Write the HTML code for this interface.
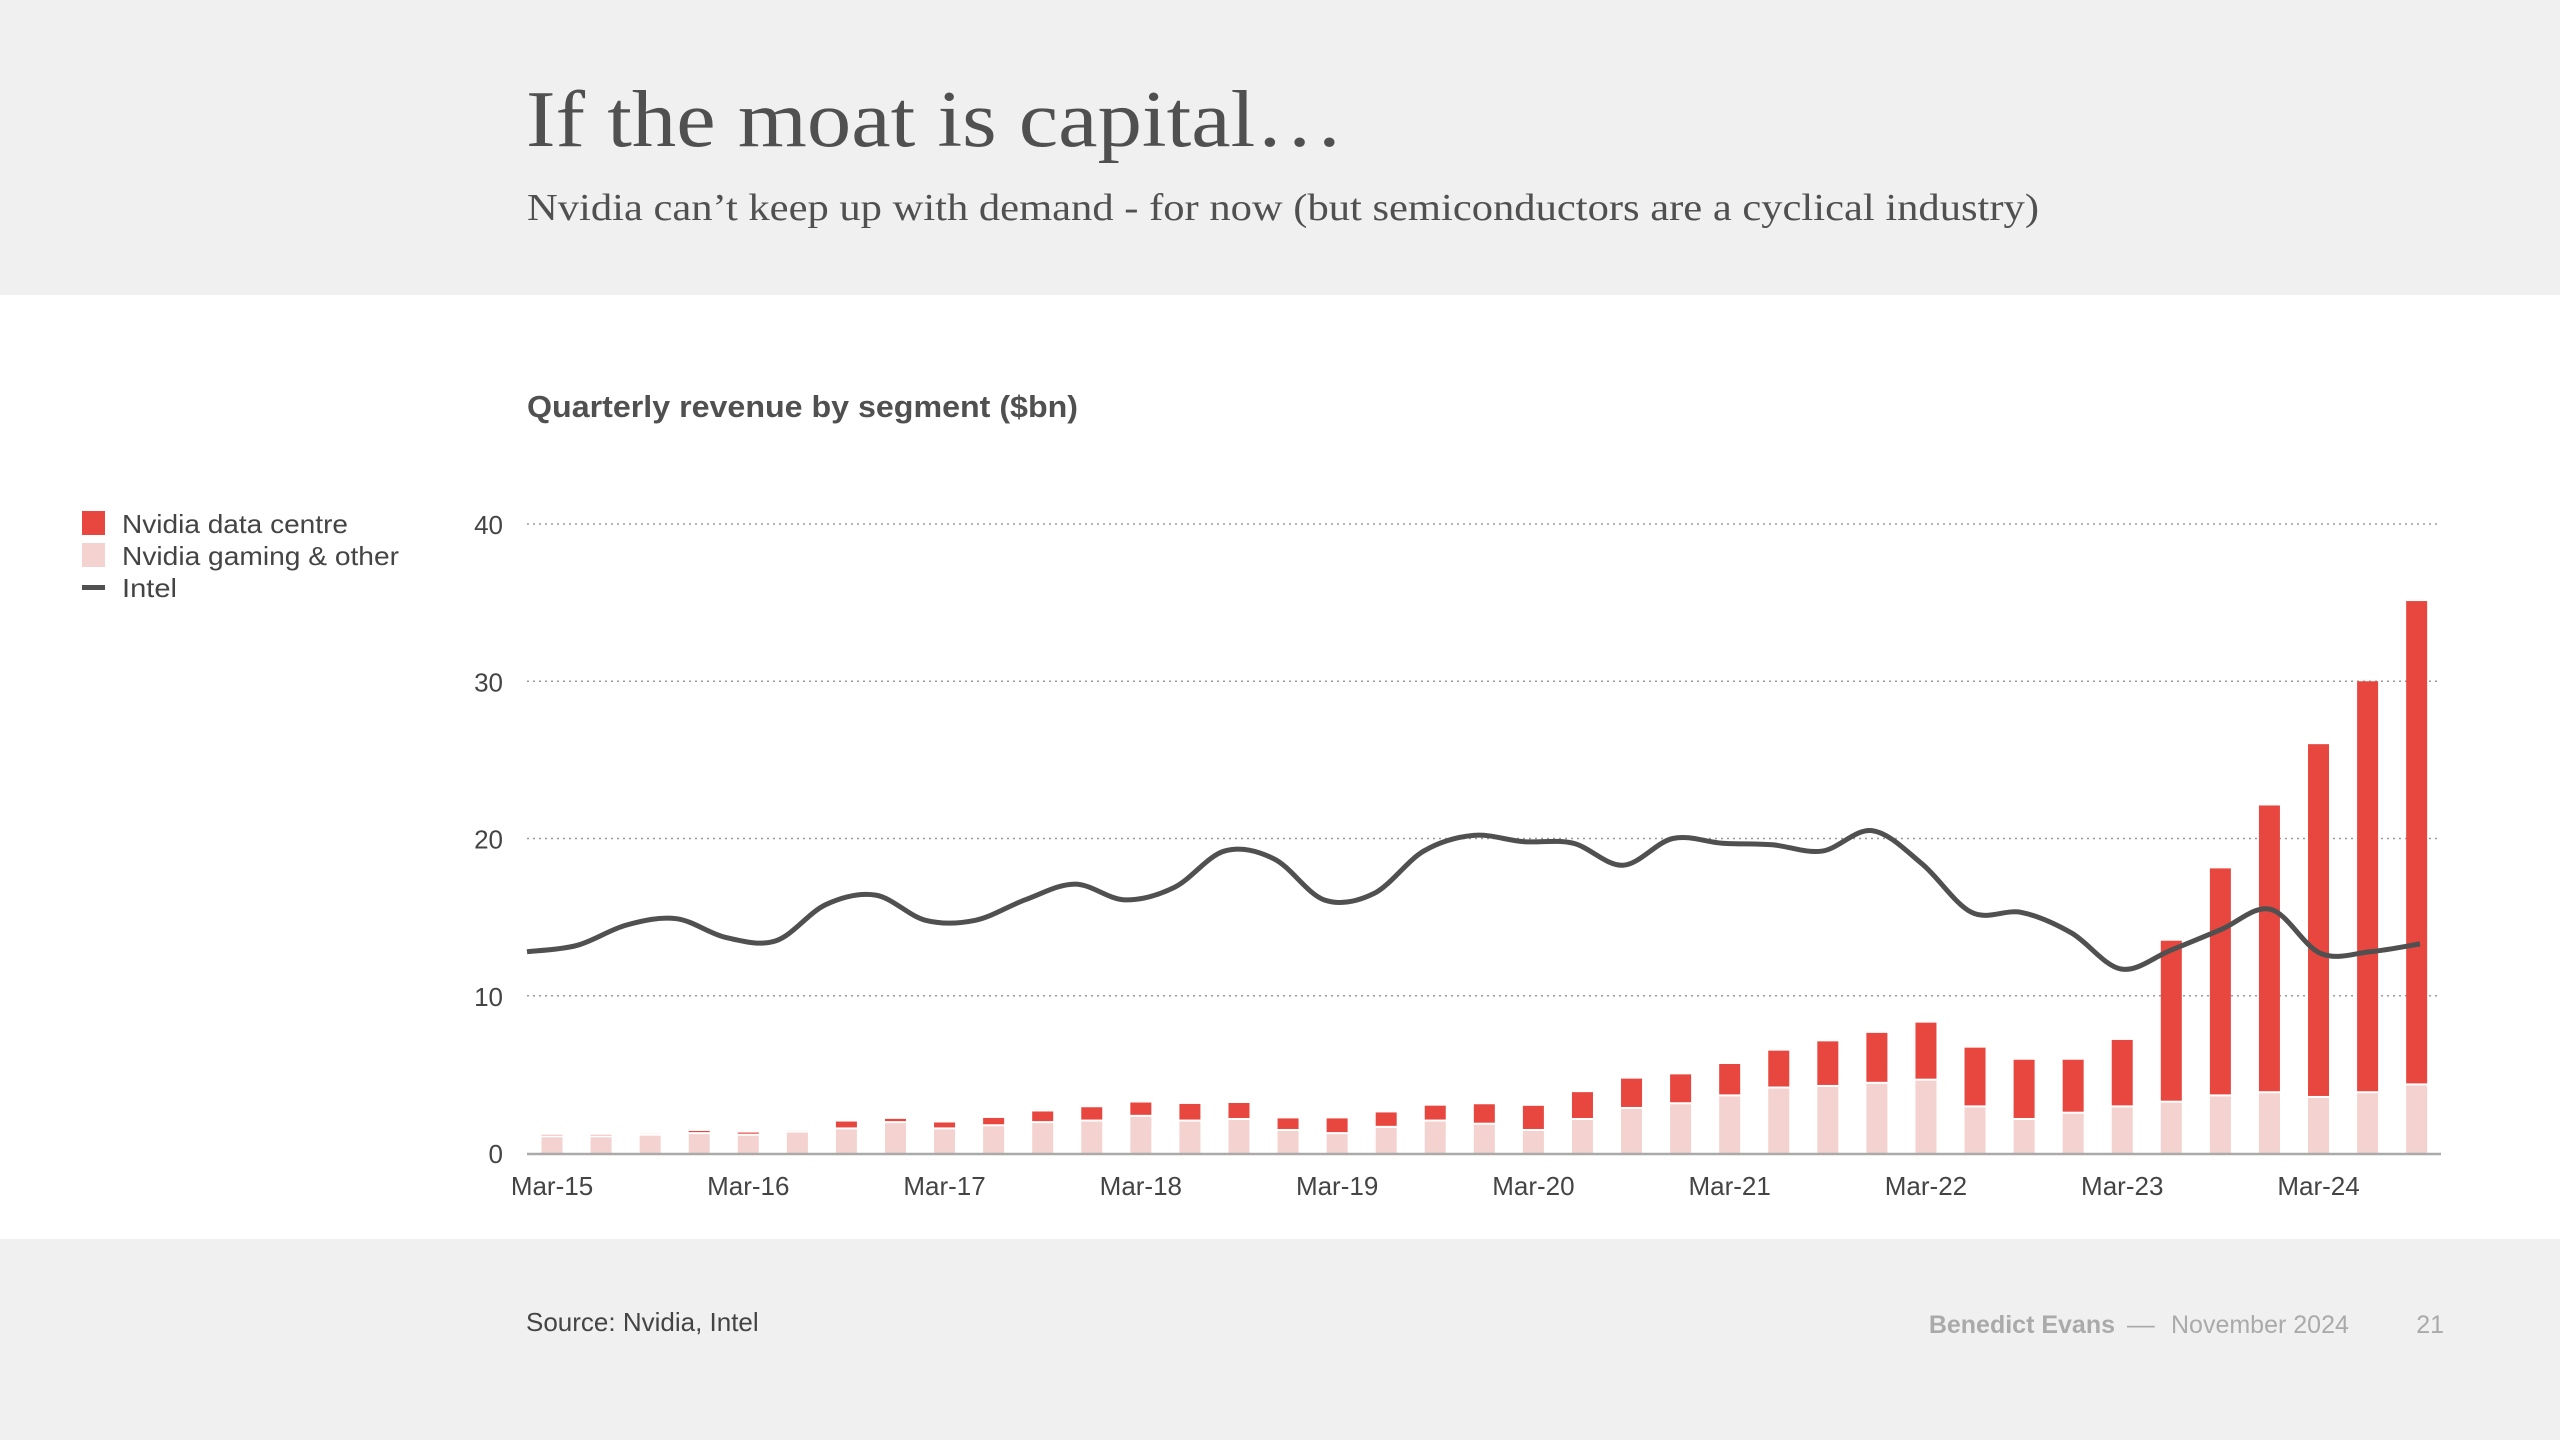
<!DOCTYPE html>
<html><head><meta charset="utf-8"><style>
html,body{margin:0;padding:0;background:#fff;}
svg{display:block;font-family:"Liberation Sans",sans-serif;}
</style></head><body>
<svg id="chart" width="2560" height="1440" viewBox="0 0 2560 1440" xmlns="http://www.w3.org/2000/svg">
<rect x="0" y="0" width="2560" height="295" fill="#f0f0f0"/>
<rect x="0" y="1239" width="2560" height="201" fill="#f0f0f0"/>
<text x="526" y="146" font-family="Liberation Serif, serif" font-size="80" fill="#505050" textLength="818" lengthAdjust="spacingAndGlyphs">If the moat is capital…</text>
<text x="527" y="220" font-family="Liberation Serif, serif" font-size="38" fill="#505050" textLength="1512" lengthAdjust="spacingAndGlyphs">Nvidia can’t keep up with demand - for now (but semiconductors are a cyclical industry)</text>
<text x="527" y="417" font-size="31" font-weight="bold" fill="#505050" textLength="551" lengthAdjust="spacingAndGlyphs">Quarterly revenue by segment ($bn)</text>
<g>
<rect x="82" y="511" width="23" height="24" fill="#e8473f"/>
<text x="122" y="533" font-size="26" fill="#444" textLength="226" lengthAdjust="spacingAndGlyphs">Nvidia data centre</text>
<rect x="82" y="543" width="23" height="24" fill="#f3d2cf"/>
<text x="122" y="565" font-size="26" fill="#444" textLength="277" lengthAdjust="spacingAndGlyphs">Nvidia gaming &amp; other</text>
<rect x="82" y="585" width="23" height="5" fill="#505050"/>
<text x="122" y="597" font-size="26" fill="#444" textLength="55" lengthAdjust="spacingAndGlyphs">Intel</text>
</g>
<g id="grid"></g><g id="bars"></g><g id="line"></g><g id="axes"></g>
<text x="526" y="1331" font-size="26" fill="#444">Source: Nvidia, Intel</text>
<text x="2115" y="1333" font-size="25" fill="#aaa" text-anchor="end" font-weight="bold">Benedict Evans</text>
<text x="2127" y="1333" font-size="25" fill="#aaa">––</text>
<text x="2171" y="1333" font-size="25" fill="#aaa">November 2024</text>
<text x="2444" y="1333" font-size="25" fill="#aaa" text-anchor="end">21</text>
</svg>
<script>
const quarters = ["Mar-15","Jun-15","Sep-15","Dec-15","Mar-16","Jun-16","Sep-16","Dec-16","Mar-17","Jun-17","Sep-17","Dec-17","Mar-18","Jun-18","Sep-18","Dec-18","Mar-19","Jun-19","Sep-19","Dec-19","Mar-20","Jun-20","Sep-20","Dec-20","Mar-21","Jun-21","Sep-21","Dec-21","Mar-22","Jun-22","Sep-22","Dec-22","Mar-23","Jun-23","Sep-23","Dec-23","Mar-24","Jun-24","Sep-24"];
const gaming = [1.0,1.0,1.1,1.2,1.1,1.3,1.5,1.9,1.5,1.7,1.9,2.0,2.3,2.0,2.1,1.4,1.2,1.6,2.0,1.8,1.4,2.1,2.8,3.1,3.6,4.1,4.2,4.4,4.6,2.9,2.1,2.5,2.9,3.2,3.6,3.8,3.5,3.8,4.3];
const dataCentre = [0.15,0.15,0.13,0.2,0.2,0.13,0.5,0.27,0.44,0.53,0.74,0.91,0.91,1.12,1.08,0.8,1.0,0.98,1.01,1.3,1.6,1.77,1.93,1.9,2.06,2.41,2.9,3.24,3.69,3.8,3.83,3.43,4.29,10.3,14.5,18.3,22.5,26.2,30.8];
const intel = [12.8,13.2,14.5,14.9,13.7,13.5,15.8,16.4,14.8,14.8,16.1,17.1,16.1,16.9,19.2,18.7,16.1,16.5,19.2,20.2,19.8,19.7,18.3,20.0,19.7,19.6,19.2,20.5,18.4,15.3,15.3,14.0,11.7,12.9,14.2,15.5,12.7,12.8,13.3];
const yTicks = [0,10,20,30,40];
const xLabels = ["Mar-15","Mar-16","Mar-17","Mar-18","Mar-19","Mar-20","Mar-21","Mar-22","Mar-23","Mar-24"];

const NS="http://www.w3.org/2000/svg";
const y0=1153, yTop=524, yMax=40;
function yScale(v){return y0-(v/yMax)*(y0-yTop);}
function xScale(i){return 552+i*49.07;}
function lineX(i){return 527+i*(2420-527)/(quarters.length-1);}
function mk(tag,attrs,parent){const e=document.createElementNS(NS,tag);for(const k in attrs)e.setAttribute(k,attrs[k]);parent.appendChild(e);return e;}
const grid=document.getElementById('grid'),bars=document.getElementById('bars'),line=document.getElementById('line'),axes=document.getElementById('axes');

yTicks.forEach(t=>{
  const y=yScale(t);
  if(t>0){const g=mk('line',{x1:527,x2:2438,y1:y,y2:y,stroke:'#9a9a9a','stroke-width':1.6,'stroke-dasharray':'2 4'},grid);
  
  }
  const tx=mk('text',{x:503,y:y+10,'font-size':26,fill:'#444','text-anchor':'end'},axes);
  tx.textContent=t;
  
  
});

quarters.forEach((q,i)=>{
  const w=21,x=xScale(i)-w/2;
  const gy=yScale(gaming[i]);
  const r1=mk('rect',{x:x,y:gy,width:w,height:y0-gy,fill:'#f3d2cf'},bars);
  
  
  const ty=yScale(gaming[i]+dataCentre[i]);
  const h=Math.max(0,gy-ty-2);
  const r2=mk('rect',{x:x,y:ty,width:w,height:h,fill:'#e8473f'},bars);
  
  
});

const pts=intel.map((v,i)=>[lineX(i),yScale(v)]);
let d='M'+pts[0][0]+','+pts[0][1];
for(let i=0;i<pts.length-1;i++){
  const p0=pts[Math.max(0,i-1)],p1=pts[i],p2=pts[i+1],p3=pts[Math.min(pts.length-1,i+2)];
  const c1=[p1[0]+(p2[0]-p0[0])/6,p1[1]+(p2[1]-p0[1])/6];
  const c2=[p2[0]-(p3[0]-p1[0])/6,p2[1]-(p3[1]-p1[1])/6];
  d+=' C'+c1[0]+','+c1[1]+' '+c2[0]+','+c2[1]+' '+p2[0]+','+p2[1];
}
const pl=mk('path',{d:d,fill:'none',stroke:'#505050','stroke-width':5,'stroke-linejoin':'round'},line);



const ax=mk('line',{x1:527,x2:2441,y1:y0+1,y2:y0+1,stroke:'#aaa','stroke-width':2.5},axes);


xLabels.forEach(l=>{
  const i=quarters.indexOf(l);
  const t=mk('text',{x:xScale(i),y:1195,'font-size':26,fill:'#444','text-anchor':'middle'},axes);
  t.textContent=l;
  
  
});
</script>
</body></html>
